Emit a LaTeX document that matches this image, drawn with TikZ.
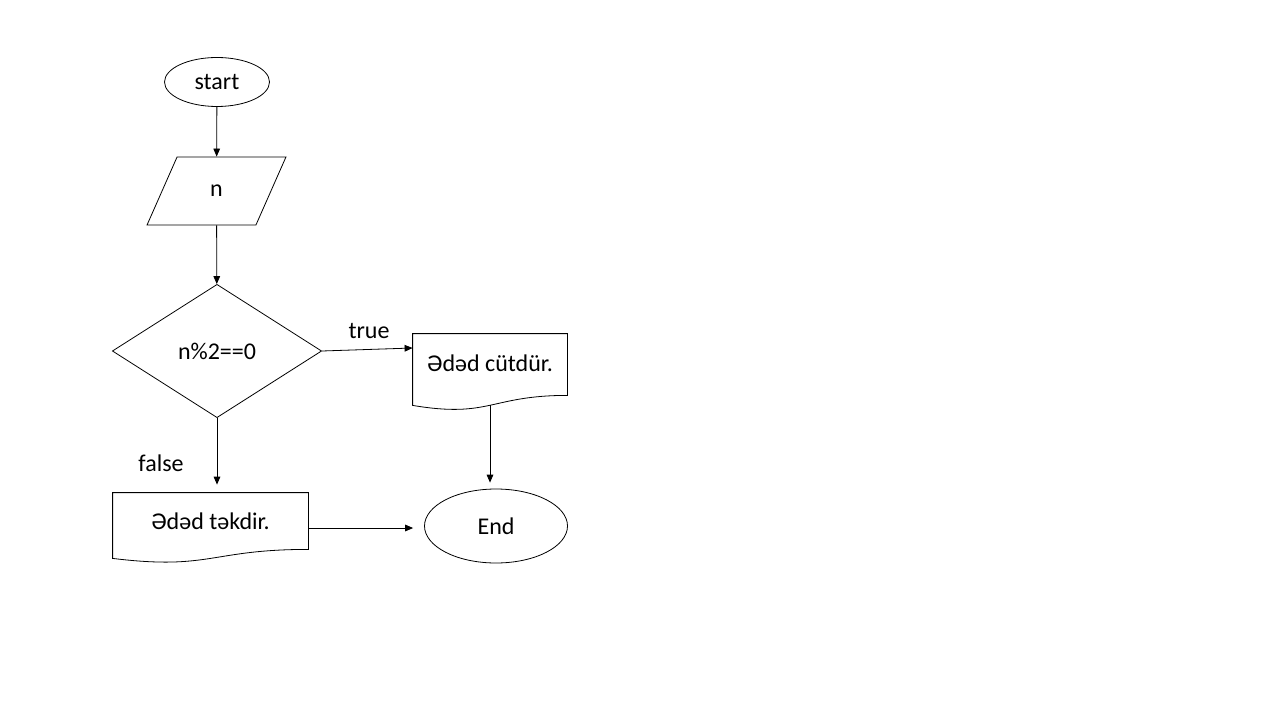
\documentclass[tikz,border=0pt]{standalone}
\usepackage{fontspec}
\setmainfont{Carlito}
\usepackage{tikz}
\usetikzlibrary{calc,shapes.geometric,arrows.meta}

\begin{document}
\begin{tikzpicture}[x=0.75pt,y=-0.75pt,line width=0.6pt,>={Triangle[length=6pt,width=5pt]}]
            \tikzstyle{every node}=[font=\fontsize{18}{21}\selectfont]
            \tikzstyle{oval}=[draw,ellipse,inner sep=0pt]
            \tikzstyle{io}=[draw,trapezium,trapezium left angle=67.6,trapezium right angle=112.4,trapezium stretches=true,minimum width=104.25pt,minimum height=51pt,inner sep=0pt]
            \tikzstyle{cond}=[draw,diamond,minimum width=157pt,minimum height=100pt,inner sep=0pt]
            \tikzstyle{doc}=[inner sep=0pt]
            \useasboundingbox (0,0) rectangle (1280,720);
            \node[oval,minimum width=78.75pt,minimum height=36.75pt] (s) at (217,82) {start};
            \node[io] (n) at (216.5,191) {n};
            \node[cond] (c) at (217,351) {n\%2==0};
            \node[doc,minimum width=115.5pt,minimum height=43.5pt] (d1) at (490,363) {Ədəd cütdür.};
            \node[doc,minimum width=146.25pt,minimum height=42pt] (d2) at (210.5,521) {Ədəd təkdir.};
            \node[oval,minimum width=107.25pt,minimum height=55.5pt] (e) at (496,526) {End};
            % Document outlines
            \draw (d1.north west) -- (d1.north east) -- ($(d1.south east)+(0,3)$) .. controls ($(d1.south)+(0,3)$) and ($(d1.south)+(0,26)$) .. ($(d1.south west)+(0,13)$) -- cycle;
            \draw (d2.north west) -- (d2.north east) -- (d2.south east) .. controls (d2.south) and ($(d2.south)+(0,21)$) .. ($(d2.south west)+(0,9)$) -- cycle;
            % Arrows
            \draw[->] (s)--(n);
            \draw[->] (n)--(c);
            \draw[->] (c.east)--($(d1.west)+(0,-15)$);
            \draw[->,shorten >=6pt] (c.south)--(c.south |- d2.north);
            \coordinate (w1) at ($(d1.south)+(0,13)$);
            \draw[->,shorten >=4.5pt] (w1)--(w1 |- e.north);
            \coordinate (w2) at ($(d2.east)+(0,7)$);
            \draw[->,shorten >=8.25pt] (w2)--(w2 -| e.west);
            % Labels
            \node (t) at (369,331) {true};
            \node (f) at (161,463) {false};
        \end{tikzpicture}
\end{document}
